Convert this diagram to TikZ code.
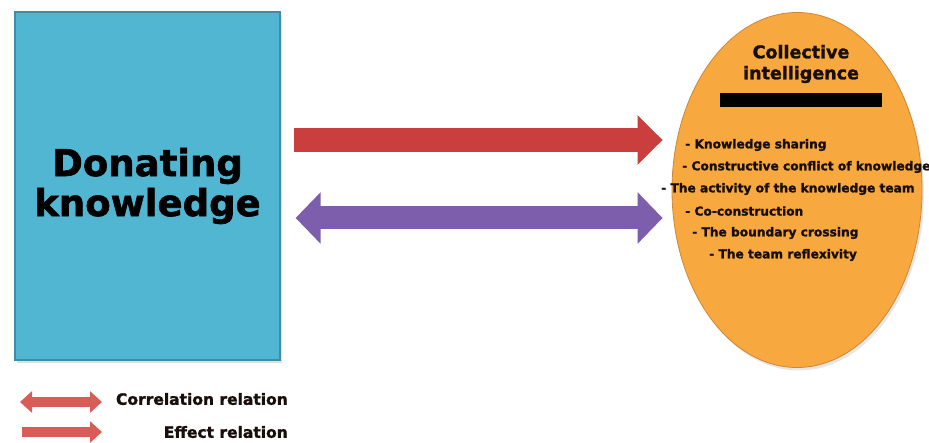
\documentclass[tikz,border=0pt]{standalone}
\usepackage{fontspec}
\setmainfont{DejaVu Sans}[BoldFeatures={FakeBold=1.6}]
\usepackage{xcolor}
\usepackage{tikz}
\usetikzlibrary{arrows.meta, positioning, shapes.geometric, shadows}
\definecolor{donorblue}{RGB}{80,182,210}
\definecolor{donoredge}{RGB}{62,140,165}
\definecolor{ciorange}{RGB}{247,168,62}
\definecolor{ciedge}{RGB}{205,135,55}
\definecolor{effectred}{RGB}{203,62,62}
\definecolor{corrpurple}{RGB}{124,94,172}
\definecolor{legendred}{RGB}{218,92,88}
\definecolor{textdark}{RGB}{25,15,10}

\begin{document}
\begin{tikzpicture}[
  x=1pt, y=-1pt,
  font=\bfseries,
  donorbox/.style={draw=donoredge, line width=1.2pt, fill=donorblue,
    minimum width=265pt, minimum height=348pt, align=center,
    drop shadow={shadow xshift=2pt, shadow yshift=-3pt, opacity=0.25}},
  cioval/.style={ellipse, draw=ciedge, line width=0.8pt, fill=ciorange,
    minimum width=250pt, minimum height=355pt, inner sep=0pt,
    drop shadow={shadow xshift=2pt, shadow yshift=-3pt, opacity=0.2}},
  item/.style={anchor=west, inner sep=0pt, text=textdark,
    font=\bfseries\fontsize{12.2}{14}\selectfont},
  effarr/.style={-{Triangle[length=25pt, width=48pt]}, line width=24pt, effectred},
  corrarr/.style={{Triangle[length=25pt, width=50pt]}-{Triangle[length=25pt, width=50pt]},
    line width=23pt, corrpurple},
  legarr/.style={line width=10pt, legendred},
  legtext/.style={anchor=east, inner sep=0pt, text=textdark,
    font=\bfseries\fontsize{15.5}{18}\selectfont}
]
  \useasboundingbox (0,0) rectangle (929,443);

  % main boxes
  \node[donorbox, font=\bfseries\fontsize{37}{40}\selectfont] (donor) at (147.5,186) {Donating\\knowledge};
  \node[cioval] (ci) at (797,190) {};

  % inside the oval
  \node[align=center, inner sep=0pt, text=textdark, font=\bfseries\fontsize{17.5}{21}\selectfont] (cititle) at (801,64) {Collective\\intelligence};
  \node[fill=black, minimum width=162pt, minimum height=14pt, inner sep=0pt] (cibar) at (801,100) {};
  \node[item] (share) at (685,145) {- Knowledge sharing};
  \node[item] (conflict) at (682,167) {- Constructive conflict of knowledge};
  \node[item] (activity) at (661,189) {- The activity of the knowledge team};
  \node[item] (cocon) at (685,211) {- Co-construction};
  \node[item] (border) at (692,233) {- The boundary crossing};
  \node[item] (reflex) at (709,255) {- The team reflexivity};

  % relations
  \draw[effarr, shorten <=13pt, shorten >=9pt] (donor.east |- 0,140) -- (ci.west |- 0,140);
  \draw[corrarr, shorten <=15pt, shorten >=9pt] (donor.east |- 0,218) -- (ci.west |- 0,218);

  % legend
  \coordinate (corrA) at (20,402);
  \coordinate (corrB) at (102,402);
  \coordinate (effA) at (22,432);
  \coordinate (effB) at (102,432);
  \draw[legarr, {Triangle[length=12pt, width=21pt]}-{Triangle[length=12pt, width=21pt]}] (corrA) -- (corrB);
  \draw[legarr, -{Triangle[length=12pt, width=21pt]}] (effA) -- (effB);
  \node[legtext] (corrtext) at (288,399) {Correlation relation};
  \node[legtext] (efftext) at (288,432) {Effect relation};
\end{tikzpicture}
\end{document}
